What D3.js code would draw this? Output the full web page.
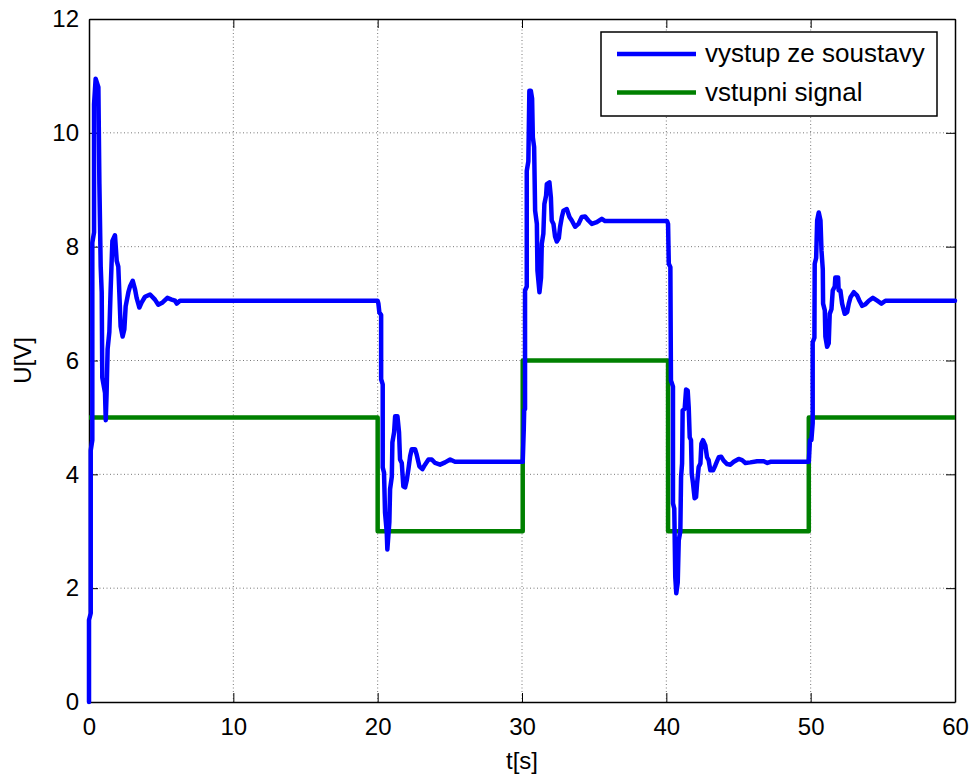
<!DOCTYPE html>
<html>
<head>
<meta charset="utf-8">
<script src="https://cdn.jsdelivr.net/npm/d3@7"></script>
<style>
  html, body { margin: 0; padding: 0; background: #fff; }
  svg { display: block; }
  text { font-family: "Liberation Sans", Arial, sans-serif; fill: #000; }
</style>
</head>
<body>
<svg id="chart" width="973" height="775"></svg>
<script>
// Output of the system [t (s), U (V)]
const outputSeries = [
  [0, 0], [0, 1.44], [0.12, 1.56], [0.12, 4.42], [0.23, 4.6], [0.23, 8.07], [0.35, 8.25], [0.35, 10.5],
  [0.46, 10.95], [0.65, 10.8], [0.72, 9.1], [0.81, 7.65], [0.88, 7.2], [0.92, 5.7], [1.11, 5.43],
  [1.16, 4.95], [1.22, 5.43], [1.29, 6.2], [1.41, 6.5], [1.5, 7.25], [1.62, 8.1], [1.8, 8.2],
  [1.92, 7.75], [2.03, 7.65], [2.1, 7.2], [2.19, 6.6], [2.33, 6.42], [2.45, 6.55], [2.54, 6.95],
  [2.73, 7.2], [2.84, 7.3], [3.03, 7.4], [3.19, 7.25], [3.3, 7.1], [3.49, 6.93], [3.65, 7.02],
  [3.88, 7.12], [4.23, 7.16], [4.57, 7.07], [4.8, 6.98], [5.1, 7.02], [5.43, 7.1], [5.73, 7.07],
  [5.96, 7.05], [6.08, 7.0], [6.3, 7.05], [20.0, 7.05],
  [20.05, 7.0], [20.12, 6.84], [20.24, 6.8], [20.24, 5.67], [20.35, 5.58], [20.35, 4.12], [20.44, 4.03],
  [20.51, 3.33], [20.63, 2.98], [20.67, 2.68], [20.81, 3.16], [20.86, 3.74], [20.98, 3.96], [21.02, 4.56],
  [21.14, 4.74], [21.21, 5.02], [21.37, 5.02], [21.48, 4.74], [21.55, 4.26], [21.67, 4.2], [21.78, 3.79],
  [21.9, 3.77], [22.02, 3.9], [22.13, 4.09], [22.25, 4.32], [22.36, 4.44], [22.59, 4.44], [22.7, 4.35],
  [22.89, 4.14], [23.1, 4.09], [23.28, 4.17], [23.52, 4.26], [23.75, 4.26], [23.98, 4.2], [24.32, 4.17],
  [24.67, 4.21], [25.02, 4.26], [25.36, 4.22], [30.05, 4.22],
  [30.12, 4.77], [30.15, 5.12], [30.21, 5.15], [30.21, 7.23], [30.33, 7.3], [30.33, 9.33], [30.44, 9.5],
  [30.51, 10.74], [30.61, 10.74], [30.7, 10.6], [30.75, 9.92], [30.84, 9.75], [30.91, 8.63], [31.03, 8.4],
  [31.07, 7.58], [31.21, 7.2], [31.32, 7.46], [31.37, 8.05], [31.48, 8.23], [31.55, 8.75], [31.67, 8.9],
  [31.72, 9.1], [31.9, 9.13], [32.0, 8.87], [32.06, 8.46], [32.18, 8.4], [32.29, 8.18], [32.41, 8.09],
  [32.55, 8.15], [32.64, 8.35], [32.76, 8.52], [32.87, 8.63], [33.1, 8.66], [33.29, 8.52], [33.45, 8.46],
  [33.68, 8.35], [33.91, 8.4], [34.14, 8.52], [34.37, 8.53], [34.6, 8.46], [34.84, 8.4], [35.18, 8.43],
  [35.53, 8.49], [35.76, 8.45], [40.05, 8.45],
  [40.12, 8.4], [40.17, 7.7], [40.28, 7.64], [40.32, 5.65], [40.46, 5.54], [40.46, 3.49], [40.55, 3.4],
  [40.62, 2.19], [40.69, 1.91], [40.79, 2.1], [40.86, 2.84], [40.97, 3.0], [41.02, 3.95], [41.09, 4.19],
  [41.13, 5.12], [41.27, 5.15], [41.37, 5.49], [41.48, 5.47], [41.55, 5.18], [41.62, 4.65], [41.71, 4.6],
  [41.76, 4.01], [41.85, 3.84], [41.96, 3.58], [42.06, 3.6], [42.13, 3.84], [42.24, 4.13], [42.36, 4.19],
  [42.43, 4.54], [42.54, 4.6], [42.7, 4.51], [42.82, 4.3], [42.93, 4.25], [43.05, 4.07], [43.24, 4.07],
  [43.4, 4.16], [43.63, 4.3], [43.8, 4.31], [43.97, 4.24], [44.21, 4.18], [44.44, 4.17], [44.67, 4.22],
  [45.01, 4.27], [45.25, 4.25], [45.48, 4.2], [45.82, 4.21], [46.29, 4.23], [46.75, 4.23], [47.0, 4.2],
  [47.21, 4.22], [49.87, 4.22],
  [49.95, 4.6], [50.05, 4.6], [50.14, 4.9], [50.14, 6.32], [50.26, 6.4], [50.28, 7.7], [50.38, 7.8],
  [50.45, 8.46], [50.56, 8.6], [50.68, 8.46], [50.75, 7.93], [50.84, 7.6], [50.86, 7.0], [50.98, 6.88],
  [51.02, 6.42], [51.14, 6.24], [51.25, 6.3], [51.32, 6.82], [51.44, 6.9], [51.53, 7.23], [51.67, 7.3],
  [51.71, 7.46], [51.9, 7.46], [51.94, 7.23], [52.06, 7.23], [52.18, 7.0], [52.36, 6.82], [52.53, 6.85],
  [52.64, 7.0], [52.76, 7.11], [52.99, 7.2], [53.22, 7.14], [53.38, 7.05], [53.57, 6.96], [53.8, 6.99],
  [54.03, 7.05], [54.31, 7.1], [54.61, 7.05], [54.9, 7.0], [55.18, 7.05], [60, 7.05]
];

// Input step signal [t (s), U (V)]
const inputSeries = [
  [0, 5], [20.0, 5], [20.0, 3], [30.05, 3], [30.05, 6], [40.12, 6], [40.12, 3],
  [49.87, 3], [49.87, 5], [60, 5]
];

const xTicks = [0, 10, 20, 30, 40, 50, 60];
const yTicks = [0, 2, 4, 6, 8, 10, 12];
const seriesNames = ["vystup ze soustavy", "vstupni signal"];
const seriesColors = ["#0000ff", "#008000"];
const xLabel = "t[s]";
const yLabel = "U[V]";

const svg = d3.select("#chart");
const plotLeft = 89, plotRight = 955, plotTop = 19, plotBottom = 702;

const x = d3.scaleLinear().domain([0, 60]).range([plotLeft, plotRight]);
const y = d3.scaleLinear().domain([0, 12]).range([plotBottom, plotTop]);

const fontSize = 24;
const tickLen = 9;
const lineWidth = 4.5;

// grid lines (dotted)
const grid = svg.append("g");
grid.selectAll("line.gx").data(xTicks.slice(1, -1)).join("line")
  .attr("x1", d => x(d)).attr("x2", d => x(d))
  .attr("y1", plotTop).attr("y2", plotBottom)
  .attr("stroke", "#555").attr("stroke-width", 0.8).attr("stroke-dasharray", "1,2.5");
grid.selectAll("line.gy").data(yTicks.slice(1, -1)).join("line")
  .attr("y1", d => y(d)).attr("y2", d => y(d))
  .attr("x1", plotLeft).attr("x2", plotRight)
  .attr("stroke", "#555").attr("stroke-width", 0.8).attr("stroke-dasharray", "1,2.5");

// axes with inward ticks on all four sides
const axB = svg.append("g").attr("transform", `translate(0,${plotBottom})`)
  .call(d3.axisBottom(x).tickValues(xTicks).tickSizeInner(-tickLen).tickSizeOuter(0).tickPadding(16));
const axT = svg.append("g").attr("transform", `translate(0,${plotTop})`)
  .call(d3.axisTop(x).tickValues(xTicks).tickSizeInner(-tickLen).tickSizeOuter(0).tickFormat(""));
const axL = svg.append("g").attr("transform", `translate(${plotLeft},0)`)
  .call(d3.axisLeft(y).tickValues(yTicks).tickSizeInner(-tickLen).tickSizeOuter(0).tickPadding(10));
const axR = svg.append("g").attr("transform", `translate(${plotRight},0)`)
  .call(d3.axisRight(y).tickValues(yTicks).tickSizeInner(-tickLen).tickSizeOuter(0).tickFormat(""));

[axB, axT, axL, axR].forEach(g => {
  g.select(".domain").attr("stroke", "#000").attr("stroke-width", 1.5);
  g.selectAll(".tick line").attr("stroke", "#000").attr("stroke-width", 1);
  g.selectAll(".tick text").attr("font-size", fontSize)
    .attr("font-family", "Liberation Sans, Arial, sans-serif").attr("fill", "#000");
});

// data lines
const line = d3.line().x(d => x(d[0])).y(d => y(d[1]));
const plot = svg.append("g");
plot.append("path").datum(inputSeries).attr("d", line)
  .attr("fill", "none").attr("stroke", seriesColors[1]).attr("stroke-width", lineWidth)
  .attr("stroke-linejoin", "round");
plot.append("path").datum(outputSeries).attr("d", line)
  .attr("fill", "none").attr("stroke", seriesColors[0]).attr("stroke-width", lineWidth)
  .attr("stroke-linejoin", "round").attr("stroke-linecap", "round");

// axis labels
svg.append("text").attr("x", (plotLeft + plotRight) / 2).attr("y", 769)
  .attr("text-anchor", "middle").attr("font-size", fontSize).text(xLabel);
svg.append("text").attr("transform", `translate(31,${(plotTop + plotBottom) / 2}) rotate(-90)`)
  .attr("text-anchor", "middle").attr("font-size", fontSize).text(yLabel);

// legend
const lg = svg.append("g");
lg.append("rect").attr("x", 601).attr("y", 32).attr("width", 336).attr("height", 84)
  .attr("fill", "#fff").attr("stroke", "#000").attr("stroke-width", 1.5);
seriesNames.forEach((name, i) => {
  const ly = 54 + i * 38.5;
  lg.append("line").attr("x1", 617).attr("x2", 696).attr("y1", ly).attr("y2", ly)
    .attr("stroke", seriesColors[i]).attr("stroke-width", lineWidth);
  lg.append("text").attr("x", 705).attr("y", ly + 8).attr("font-size", 26).text(name);
});
</script>
</body>
</html>
